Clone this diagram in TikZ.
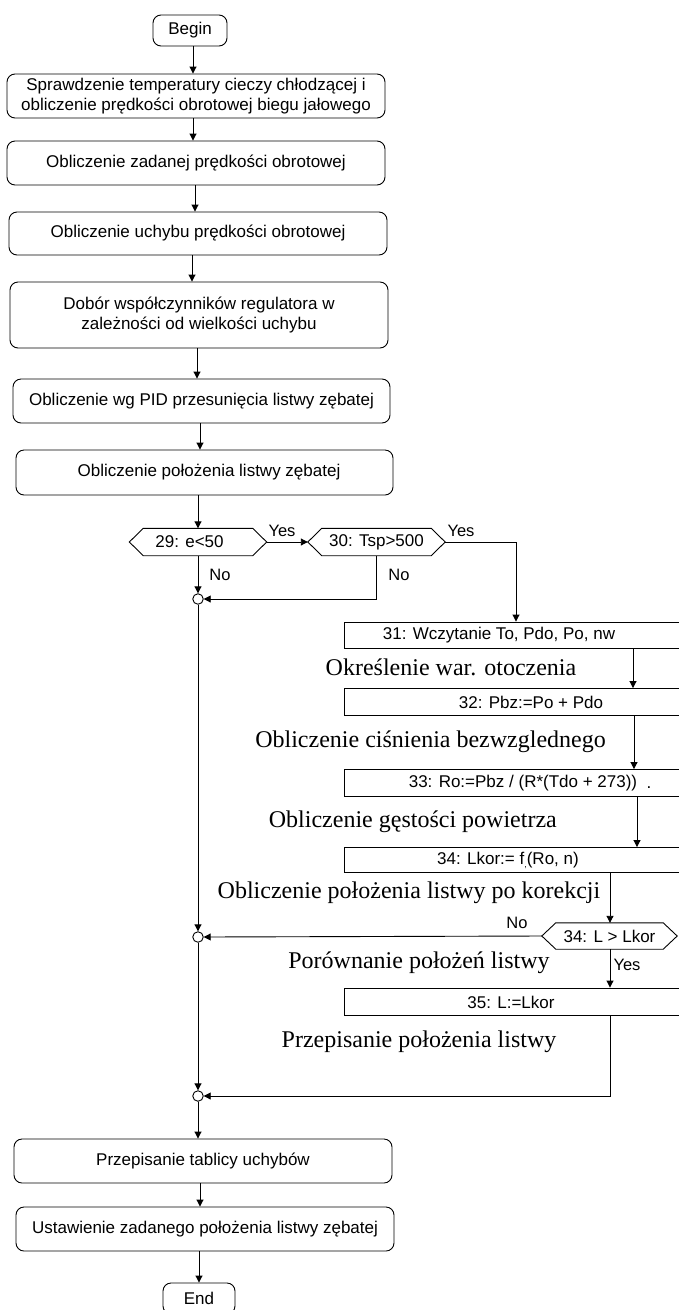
\documentclass[tikz,border=0pt]{standalone}
\usepackage{fontspec}
\setmainfont{Liberation Serif}
\setsansfont{Liberation Sans}
\usetikzlibrary{arrows.meta}
\newcommand\hexdraw[1]{\draw[line] (#1.west) -- ([xshift=14pt]#1.north west) -- ([xshift=-14pt]#1.north east) -- (#1.east) -- ([xshift=-14pt]#1.south east) -- ([xshift=14pt]#1.south west) -- cycle;}
\begin{document}
\begin{tikzpicture}[x=1pt,y=-1pt,
  line/.style={draw=black, line width=0.9pt},
  arr/.style={line, -{Triangle[length=7pt,width=7pt]}},
  rbox/.style={draw, line width=0.9pt, rounded corners=8pt, inner sep=0pt, font=\sffamily\fontsize{17}{20}\selectfont, align=center},
  sbox/.style={draw, line width=0.9pt, inner sep=0pt, minimum width=400pt, anchor=west},
  stxt/.style={font=\sffamily\fontsize{17}{20}\selectfont, inner sep=0pt},
  ser/.style={font=\fontsize{24}{28}\selectfont, inner sep=0pt},
  lab/.style={font=\sffamily\fontsize{16.5}{20}\selectfont, inner sep=0pt},
  hexn/.style={inner sep=0pt, minimum height=27pt, font=\sffamily\fontsize{17}{20}\selectfont},
  junc/.style={circle, draw, fill=white, line width=0.9pt, minimum size=10.5pt, inner sep=0pt}
]
\useasboundingbox (0,0) rectangle (678,1310);

% main column
\node[rbox, minimum width=74pt, minimum height=31pt] (begin) at (190,30.5) {Begin};
\node[rbox, minimum width=378pt, minimum height=44pt] (b1) at (196,96) {Sprawdzenie temperatury cieczy chłodzącej i\\obliczenie prędkości obrotowej biegu jałowego};
\node[rbox, minimum width=378pt, minimum height=44pt] (b2) at (196,163) {Obliczenie zadanej prędkości obrotowej};
\node[rbox, minimum width=378pt, minimum height=43pt] (b3) at (198,233.5) {Obliczenie uchybu prędkości obrotowej};
\node[rbox, minimum width=378pt, minimum height=66pt] (b4) at (199,315) {Dobór współczynników regulatora w\\zależności od wielkości uchybu};
\node[rbox, minimum width=377pt, minimum height=44pt] (b5) at (201.5,401) {Obliczenie wg PID przesunięcia listwy zębatej};
\node[rbox, minimum width=377pt, minimum height=45pt] (b6) at (204.5,472.5) {\hspace*{9pt}Obliczenie położenia listwy zębatej};

\node[hexn, minimum width=137pt] (d29) at (198,542) {\hspace*{-17pt}29: e<50};
\node[hexn, minimum width=137pt] (d30) at (376.5,542) {30: Tsp>500};
\hexdraw{d29}
\hexdraw{d30}

\node[junc] (j1) at (198,599) {};
\node[junc] (j2) at (198,937) {};
\node[junc] (j3) at (198,1096) {};

\node[rbox, minimum width=378pt, minimum height=44pt] (b7) at (203,1161) {Przepisanie tablicy uchybów};
\node[rbox, minimum width=378pt, minimum height=44pt] (b8) at (205,1229) {Ustawienie zadanego położenia listwy zębatej};
\node[rbox, minimum width=72pt, minimum height=31pt] (end) at (199,1298.5) {End};

% right column
\node[sbox, minimum height=26pt] (b31) at (344,635) {};
\node[sbox, minimum height=27pt] (b32) at (344,702) {};
\node[sbox, minimum height=27pt] (b33) at (344,783) {};
\node[sbox, minimum height=25pt] (b34) at (344,860) {};
\node[hexn, minimum width=135pt, minimum height=26pt] (d34) at (609.5,936) {34: L > Lkor};
\hexdraw{d34}
\node[sbox, minimum height=27pt] (b35) at (344,1001.5) {};

\node[stxt] (t31) at (499,635) {31: Wczytanie To, Pdo, Po, nw};
\node[stxt] (t32) at (531,702) {32: Pbz:=Po + Pdo};
\node[stxt] (t33) at (523,783) {33: Ro:=Pbz / (R*(Tdo + 273))};
\node[stxt] (t33d) at (649,788) {.};
\node[stxt] (t34) at (508,860) {34: Lkor:= f\raisebox{-3pt}{\fontsize{9}{9}\selectfont ,}(Ro, n)};
\node[stxt] (t35) at (511,1002) {35: L:=Lkor};

\node[ser] (s1) at (451,667) {Określenie war. otoczenia};
\node[ser, anchor=east] (s2) at (606,742) {Obliczenie ciśnienia bezwzglednego};
\node[ser, anchor=east] (s3) at (557,822) {Obliczenie gęstości powietrza};
\node[ser] (s4) at (409,893) {Obliczenie położenia listwy po korekcji};
\node[ser] (s5) at (419,963) {Porównanie położeń listwy};
\node[ser] (s6) at (419,1042) {Przepisanie położenia listwy};

% labels
\node[lab] (y29) at (282,531) {Yes};
\node[lab] (y30) at (461,531) {Yes};
\node[lab] (n29) at (220,575) {No};
\node[lab] (n30) at (399,575) {No};
\node[lab] (n34) at (517,923) {No};
\node[lab] (y34) at (627,965) {Yes};

% connectors main column
\draw[arr] (begin.south -| 193,0) -- (b1.north -| 193,0);
\draw[arr] (b1.south -| 193,0) -- (b2.north -| 193,0);
\draw[arr] (b2.south -| 195,0) -- (b3.north -| 195,0);
\draw[arr] (b3.south -| 192,0) -- (b4.north -| 192,0);
\draw[arr] (b4.south -| 197,0) -- (b5.north -| 197,0);
\draw[arr] (b5.south -| 200,0) -- (b6.north -| 200,0);
\draw[arr] (b6.south -| 198,0) -- (d29.north);
\draw[arr] (d29.east) -- (d30.west);
\draw[arr] (d29.south) -- (j1.north);
\draw[arr] (d30.south) |- (j1.east);
\draw[arr] (d30.east) -| (b31.north -| 516,0);
\draw[arr] (j1.south) -- (j2.north);
\draw[arr] (j2.south) -- (j3.north);
\draw[arr] (j3.south) -- (b7.north -| 198,0);
\draw[arr] (b7.south -| 200,0) -- (b8.north -| 200,0);
\draw[arr] (b8.south -| 199,0) -- (end.north);

% connectors right column
\draw[arr] (b31.south -| 633,0) -- (b32.north -| 633,0);
\draw[arr] (b32.south -| 634,0) -- (b33.north -| 634,0);
\draw[arr] (b33.south -| 637,0) -- (b34.north -| 637,0);
\draw[arr] (b34.south -| 610,0) -- (d34.north -| 610,0);
\draw[arr] (d34.west) -- (j2.east);
\draw[arr] (d34.south -| 610,0) -- (b35.north -| 610,0);
\draw[arr] (b35.south -| 610,0) |- (j3.east);
\end{tikzpicture}
\end{document}
